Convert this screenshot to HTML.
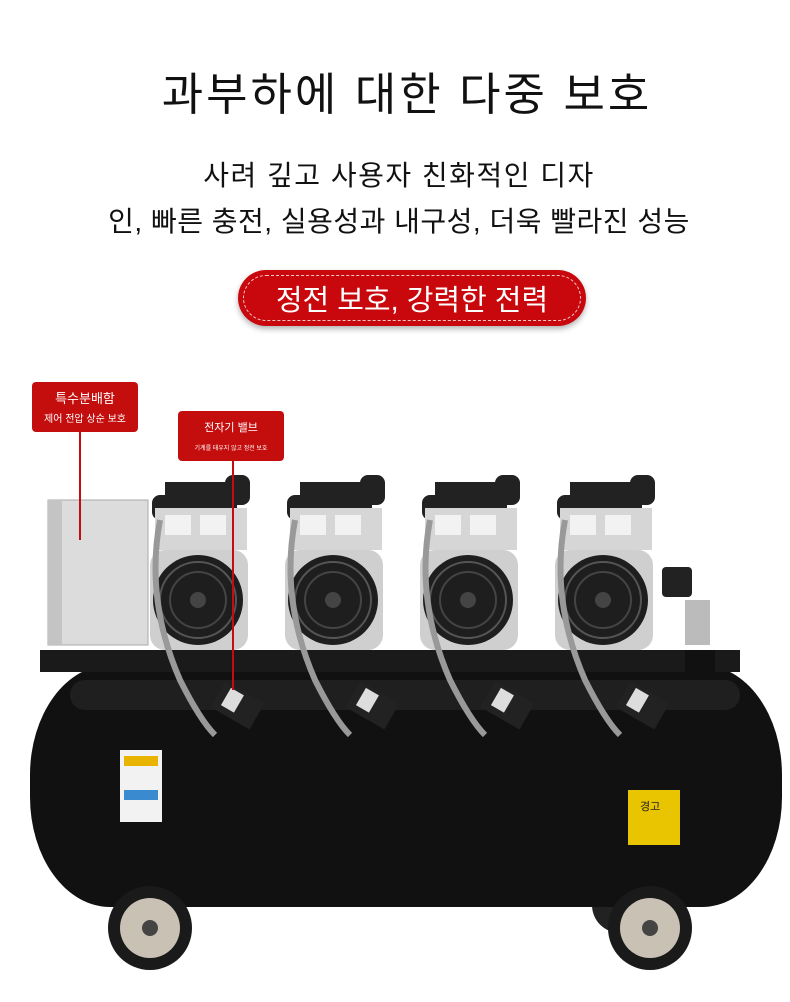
<!DOCTYPE html>
<html><head><meta charset="utf-8"><style>
html,body{margin:0;padding:0;background:#fff;}
body{width:790px;height:1002px;position:relative;overflow:hidden;font-family:"Liberation Sans","Noto Sans CJK KR",sans-serif;}
.t{position:absolute;left:0;width:790px;text-align:center;color:#111;}
.lab{position:absolute;background:#c40d0d;color:#fff;border-radius:4px;text-align:center;}
</style></head><body>
<div class="t" style="top:58px;font-size:45px;letter-spacing:3px;left:12px;">과부하에 대한 다중 보호</div>
<div class="t" style="top:154px;font-size:28px;letter-spacing:1.5px;left:4px;">사려 깊고 사용자 친화적인 디자</div>
<div class="t" style="top:200px;font-size:28px;letter-spacing:0.5px;left:4px;">인, 빠른 충전, 실용성과 내구성, 더욱 빨라진 성능</div>
<div style="position:absolute;left:238px;top:270px;width:348px;height:56px;border-radius:28px;background:#c8080c;box-shadow:0 3px 6px rgba(0,0,0,.3);">
<div style="position:absolute;left:5px;top:5px;right:5px;bottom:5px;border:1px dashed #f5c8c8;border-radius:24px;"></div>
<div style="position:absolute;left:0;width:100%;top:7px;text-align:center;color:#fff;font-size:29px;">정전 보호, 강력한 전력</div></div>
<svg width="790" height="1002" style="position:absolute;left:0;top:0">
<circle cx="620" cy="905" r="28" fill="#222"/>
<rect x="30" y="665" width="752" height="242" rx="80" ry="110" fill="#111"/>
<rect x="70" y="680" width="670" height="30" rx="15" fill="#2a2a2a" opacity=".6"/>
<rect x="120" y="750" width="42" height="72" fill="#f2f2f2"/>
<rect x="124" y="756" width="34" height="10" fill="#e8b400"/>
<rect x="124" y="790" width="34" height="10" fill="#3a8ad0"/>
<rect x="628" y="790" width="52" height="55" fill="#e9c400"/>
<text x="640" y="810" font-size="11" fill="#222">경고</text>
<rect x="40" y="650" width="700" height="22" fill="#1a1a1a"/>
<rect x="685" y="650" width="30" height="30" fill="#111"/>
<rect x="48" y="500" width="100" height="145" fill="#dcdcdc" stroke="#aaa"/>
<rect x="48" y="500" width="14" height="145" fill="#c4c4c4"/>
<g id="p">
<rect x="165" y="482" width="72" height="30" fill="#222"/>
<rect x="152" y="495" width="25" height="25" rx="8" fill="#222"/>
<rect x="225" y="475" width="25" height="30" rx="8" fill="#222"/>
<rect x="155" y="508" width="92" height="42" fill="#d6d6d6"/>
<rect x="165" y="515" width="26" height="20" fill="#f2f2f2"/><rect x="200" y="515" width="26" height="20" fill="#f2f2f2"/>
<rect x="150" y="550" width="98" height="100" rx="15" fill="#cfcfcf"/>
<circle cx="198" cy="600" r="45" fill="#1e1e1e"/>
<circle cx="198" cy="600" r="38" fill="none" stroke="#555" stroke-width="2"/>
<circle cx="198" cy="600" r="28" fill="none" stroke="#444" stroke-width="2"/>
<circle cx="198" cy="600" r="8" fill="#444"/>
<path d="M160 520 Q145 600 180 680 Q200 720 215 735" stroke="#999" stroke-width="6" fill="none"/>
<rect x="215" y="690" width="45" height="30" fill="#222" transform="rotate(30 237 705)"/>
<rect x="225" y="690" width="15" height="20" fill="#ddd" transform="rotate(30 232 700)"/>
</g>
<use href="#p" x="135"/><use href="#p" x="270"/><use href="#p" x="405"/>
<rect x="662" y="567" width="30" height="30" rx="4" fill="#222"/>
<rect x="685" y="600" width="25" height="45" fill="#bbb"/>
<circle cx="150" cy="928" r="42" fill="#1a1a1a"/><circle cx="150" cy="928" r="30" fill="#c9c2b4"/><circle cx="150" cy="928" r="8" fill="#444"/>
<circle cx="650" cy="928" r="42" fill="#1a1a1a"/><circle cx="650" cy="928" r="30" fill="#c9c2b4"/><circle cx="650" cy="928" r="8" fill="#444"/>
<line x1="80" y1="432" x2="80" y2="540" stroke="#c40d0d" stroke-width="2"/>
<line x1="233" y1="461" x2="233" y2="690" stroke="#c40d0d" stroke-width="2"/>
</svg>
<div class="lab" style="left:32px;top:382px;width:106px;height:50px;">
<div style="font-size:13px;margin-top:6px;">특수분배함</div><div style="font-size:10px;margin-top:3px;">제어 전압 상순 보호</div></div>
<div class="lab" style="left:178px;top:411px;width:106px;height:50px;">
<div style="font-size:11px;margin-top:8px;">전자기 밸브</div><div style="font-size:6px;margin-top:8px;">기계를 태우지 않고 정전 보호</div></div>
</body></html>
